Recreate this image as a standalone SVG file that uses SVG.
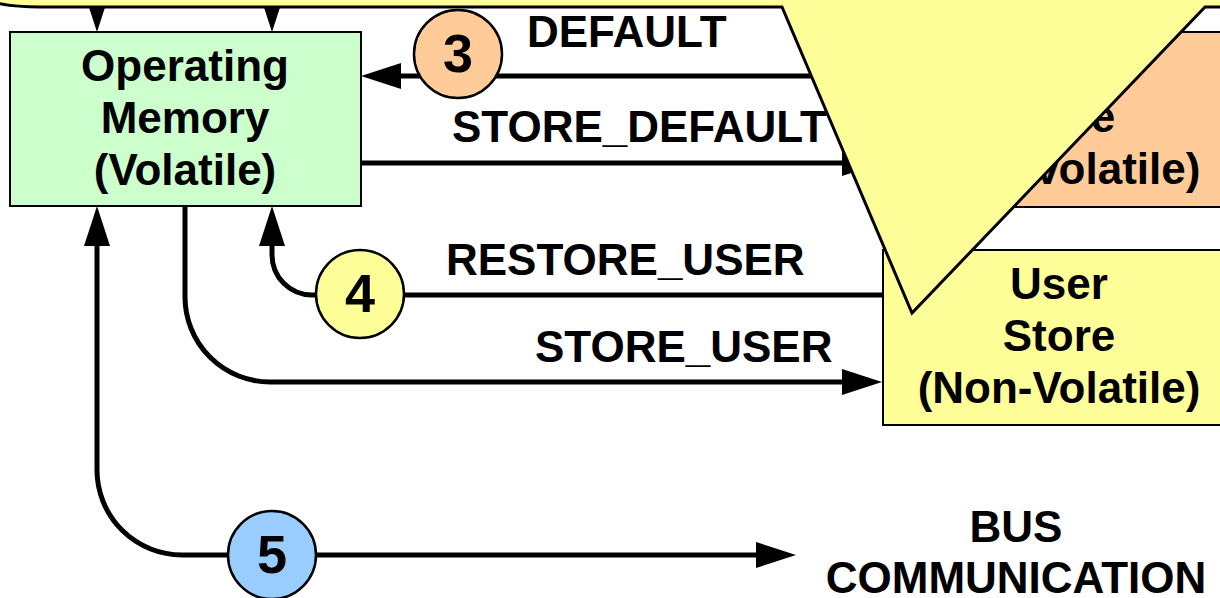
<svg xmlns="http://www.w3.org/2000/svg" width="1220" height="598" viewBox="0 0 1220 598">
<defs>
<style>
.box{stroke:#000;stroke-width:2}
.lbl{font-family:"Liberation Sans",Arial,sans-serif;font-weight:bold;font-size:44px;fill:#000}
.node{font-family:"Liberation Sans",Arial,sans-serif;font-weight:bold;font-size:44px;fill:#000;text-anchor:middle}
.num{font-family:"Liberation Sans",Arial,sans-serif;font-weight:bold;font-size:54px;fill:#000;text-anchor:middle}
.conn{fill:none;stroke:#000;stroke-width:5}
.badge{stroke:#000;stroke-width:2.5}
</style>
<marker id="ah" viewBox="0 0 40 26" refX="10" refY="13" markerWidth="40" markerHeight="26" markerUnits="userSpaceOnUse" orient="auto-start-reverse">
<path d="M0,0 L40,13 L0,26 z" fill="#000"/>
</marker>
</defs>
<rect width="1220" height="598" fill="#fff"/>

<g id="default-store">
<rect class="box" x="883" y="32" width="400" height="175" fill="#FFCC99"/>
<text class="node" x="1059" y="132">Store</text>
<text class="node" x="1059" y="184">(Non-Volatile)</text>
</g>

<g id="user-store">
<rect class="box" x="883" y="250" width="400" height="175" fill="#FFFF99"/>
<text class="node" x="1059" y="299">User</text>
<text class="node" x="1059" y="351">Store</text>
<text class="node" x="1059" y="403">(Non-Volatile)</text>
</g>

<g id="connectors">
<path class="conn" d="M 97 -40 L 97 2" marker-end="url(#ah)"/>
<path class="conn" d="M 272 -40 L 272 2" marker-end="url(#ah)"/>
<path class="conn" d="M 883 76 L 391 76" marker-end="url(#ah)"/>
<path class="conn" d="M 361 163 L 852 163" marker-end="url(#ah)"/>
<path class="conn" d="M 883 295 L 312 295 A 40 40 0 0 1 272 255 L 272 236" marker-end="url(#ah)"/>
<path class="conn" d="M 185 206 L 185 297 A 85 85 0 0 0 270 382 L 852 382" marker-end="url(#ah)"/>
<path class="conn" d="M 97 236 L 97 470 A 85 85 0 0 0 182 555 L 766 555" marker-start="url(#ah)" marker-end="url(#ah)"/>
<text class="lbl" x="527" y="47">DEFAULT</text>
<text class="lbl" x="452" y="142">STORE_DEFAULT</text>
<text class="lbl" x="446" y="275">RESTORE_USER</text>
<text class="lbl" x="535" y="362">STORE_USER</text>
</g>

<g id="operating-memory">
<rect class="box" x="10" y="32" width="351" height="174" fill="#CCFFCC"/>
<text class="node" x="185" y="81">Operating</text>
<text class="node" x="185" y="133">Memory</text>
<text class="node" x="185" y="185">(Volatile)</text>
</g>

<g id="badge-3">
<circle class="badge" cx="458" cy="54" r="44" fill="#FFCC99"/>
<text class="num" x="458" y="72">3</text>
</g>
<g id="badge-4">
<circle class="badge" cx="360" cy="294" r="44" fill="#FFFF99"/>
<text class="num" x="360" y="312">4</text>
</g>
<g id="badge-5">
<circle class="badge" cx="272" cy="555" r="44" fill="#99CCFF"/>
<text class="num" x="272" y="573">5</text>
</g>

<g id="bus-communication">
<text class="node" x="1016" y="542">BUS</text>
<text class="node" x="1016" y="593">COMMUNICATION</text>
</g>

<g id="callout">
<path d="M -40 -60 L -40 -30 Q -40 7 40 7 L 782 7 L 912 313 L 1205 7 L 1260 7 L 1260 -60 Z" fill="#FFFF99" stroke="#000" stroke-width="3" stroke-linejoin="miter"/>
</g>
</svg>
